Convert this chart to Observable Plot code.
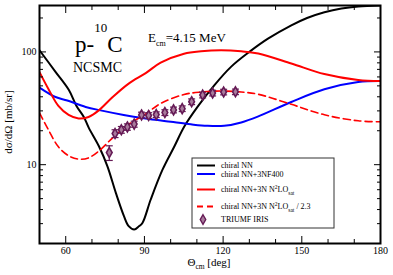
<!DOCTYPE html>
<html><head><meta charset="utf-8">
<script src="https://cdn.jsdelivr.net/npm/d3@7"></script>
<script src="https://cdn.jsdelivr.net/npm/@observablehq/plot@0.6"></script>
<style>html,body{margin:0;padding:0;background:#fff}svg{display:block}</style>
</head><body><div id="chart"></div>
<script>
// ---- data ----
const nnTheta = [50.0, 56.1, 61.2, 64.1, 66.9, 68.8, 72.7, 75.9, 79.1, 82.2, 84.0, 86.1, 87.9, 89.3, 92.4, 96.9, 101.4, 105.2, 110.3, 116.7, 123.0, 130.0, 137.1, 146.0, 152.0, 158.6, 165.1, 171.5, 180];
const nnValue = [103.5, 66.6, 45.9, 33.2, 26.5, 21.2, 14.5, 9.66, 5.63, 3.50, 2.85, 2.66, 2.84, 3.06, 4.91, 9.03, 14.5, 21.8, 32.7, 50.8, 73.7, 100, 131, 172, 200, 225, 243, 253, 258];

const nf400Theta = [50, 56.1, 60.6, 67.6, 73.3, 82.1, 89.8, 100.1, 107.7, 113.9, 120.4, 126.9, 133.2, 146.0, 158.6, 171.5, 180];
const nf400Value = [48.3, 39.8, 37.1, 32.5, 30.3, 27.6, 25.8, 24.0, 22.8, 22.1, 22.1, 23.7, 26.7, 36.0, 46.6, 54.0, 55.1];

const satTheta = [50, 53.4, 57.2, 61.1, 64.9, 68.7, 72.6, 77.9, 84.0, 90.5, 96.2, 105.1, 111.6, 119.2, 126.9, 133.4, 146.0, 158.6, 171.5, 180];
const satValue = [66.2, 46.9, 33.2, 27.6, 25.7, 26.5, 30.3, 39.8, 52.4, 64.9, 80.3, 96.4, 101.4, 103.5, 101.4, 96.8, 79.0, 63.6, 56.3, 55.1];
const satScaledValue = [28.8, 20.4, 14.4, 12.0, 11.2, 11.5, 13.2, 17.3, 22.8, 28.2, 34.9, 41.9, 44.1, 45.0, 44.1, 42.1, 34.3, 27.7, 24.5, 24.0];

const irisTheta = [76.6, 78.8, 81.2, 83.5, 86.1, 88.9, 91.6, 94.5, 97.8, 101.1, 104.4, 108.0, 112.2, 116.0, 120.2, 124.7];
const irisValue = [12.8, 18.9, 20.4, 21.6, 22.9, 27.6, 27.3, 27.8, 29.0, 30.6, 31.4, 36.2, 41.5, 43.2, 44.1, 44.3];
const irisError = [1.9, 1.5, 1.4, 1.4, 1.4, 1.6, 1.6, 1.6, 1.7, 1.8, 1.8, 2.1, 2.4, 2.5, 2.5, 2.5];

const xMajorTicks = [60, 90, 120, 150, 180];
const xMinorTicks = [70, 80, 100, 110, 130, 140, 160, 170];
const yMajorTicks = [10, 100];
const yMinorTicks = [2, 3, 4, 5, 6, 7, 8, 9, 20, 30, 40, 50, 60, 70, 80, 90, 200];

const legendLabels = ["chiral NN", "chiral NN+3NF400", "chiral NN+3N N²LOsat", "chiral NN+3N N²LOsat / 2.3", "TRIUMF IRIS"];

// ---- build tables ----
const toRows = (xs, ys) => xs.map((x, i) => ({x, y: ys[i]}));
const nn = toRows(nnTheta, nnValue);
const nf400 = toRows(nf400Theta, nf400Value);
const sat = toRows(satTheta, satValue);
const satScaled = toRows(satTheta, satScaledValue);
const iris = irisTheta.map((x, i) => ({x, y: irisValue[i], lo: irisValue[i] - irisError[i], hi: irisValue[i] + irisError[i]}));

const serif = "'Liberation Serif', 'DejaVu Serif', serif";
const purple = "#651a55";
const markFill = "#a87c9c";
const capSymbol = {draw(ctx) { ctx.moveTo(-3.5, 0); ctx.lineTo(3.5, 0); }};

const W = 393, H = 275;
const plot = Plot.plot({
  width: W, height: H,
  marginLeft: 39, marginRight: 13, marginTop: 5, marginBottom: 32,
  style: {fontFamily: serif, fontSize: "10px", color: "black", background: "white", overflow: "visible"},
  x: {type: "linear", domain: [50, 180]},
  y: {type: "log", domain: [2, 258]},
  marks: [
    Plot.line(nn, {x: "x", y: "y", stroke: "black", strokeWidth: 2, curve: "catmull-rom", clip: true}),
    Plot.line(nf400, {x: "x", y: "y", stroke: "#0000ff", strokeWidth: 2, curve: "catmull-rom", clip: true}),
    Plot.line(sat, {x: "x", y: "y", stroke: "#ff0000", strokeWidth: 2, curve: "catmull-rom", clip: true}),
    Plot.line(satScaled, {x: "x", y: "y", stroke: "#ff0000", strokeWidth: 1.6, strokeDasharray: "7,4", curve: "catmull-rom", clip: true}),
    Plot.ruleX(iris, {x: "x", y1: "lo", y2: "hi", stroke: purple, strokeWidth: 1.2}),
    Plot.dot(iris, {x: "x", y: "lo", symbol: capSymbol, stroke: purple, strokeWidth: 1.2, fill: "none"}),
    Plot.dot(iris, {x: "x", y: "hi", symbol: capSymbol, stroke: purple, strokeWidth: 1.2, fill: "none"}),
    Plot.dot(iris, {x: "x", y: "y", symbol: "diamond", r: 3.0, fill: markFill, stroke: purple, strokeWidth: 1.6}),
    // ticks (inward) on all four sides
    Plot.axisX(xMajorTicks, {anchor: "bottom", tickSize: -7, tickFormat: () => "", label: null}),
    Plot.axisX(xMinorTicks, {anchor: "bottom", tickSize: -4, tickFormat: () => "", label: null}),
    Plot.axisX(xMajorTicks, {anchor: "top", tickSize: -7, tickFormat: () => "", label: null}),
    Plot.axisX(xMinorTicks, {anchor: "top", tickSize: -4, tickFormat: () => "", label: null}),
    Plot.axisY(yMajorTicks, {anchor: "left", tickSize: -7, tickFormat: () => "", label: null}),
    Plot.axisY(yMinorTicks, {anchor: "left", tickSize: -4, tickFormat: () => "", label: null}),
    Plot.axisY(yMajorTicks, {anchor: "right", tickSize: -7, tickFormat: () => "", label: null}),
    Plot.axisY(yMinorTicks, {anchor: "right", tickSize: -4, tickFormat: () => "", label: null}),
    // tick labels
    Plot.text(xMajorTicks, {x: d => d, frameAnchor: "bottom", dy: 10, text: d => String(d), fontSize: 10, textAnchor: "middle"}),
    Plot.text(yMajorTicks, {y: d => d, frameAnchor: "left", dx: -3, text: d => String(d), fontSize: 10, textAnchor: "end"}),
    Plot.frame({stroke: "black", strokeWidth: 2})
  ]
});
document.getElementById("chart").appendChild(plot);

// ---- text annotations, axis titles and legend ----
const svg = d3.select(plot);
const g = svg.append("g").attr("font-family", serif).attr("fill", "black").attr("text-anchor", "start");

// axis titles
g.append("text").attr("transform", "translate(12,122) rotate(-90)").attr("text-anchor", "middle")
  .attr("font-size", 11).text("dσ/dΩ [mb/sr]");
const xl = g.append("text").attr("x", 209).attr("y", 266).attr("text-anchor", "middle").attr("font-size", 11);
xl.append("tspan").text("Θ");
xl.append("tspan").attr("font-size", 7.5).attr("dy", 3).text("cm");
xl.append("tspan").attr("dy", -3).text(" [deg]");

// p-10C
const t1 = g.append("text").attr("x", 75).attr("y", 52).attr("font-size", 23);
t1.append("tspan").text("p-");
t1.append("tspan").attr("font-size", 13).attr("dy", -20).text("10");
t1.append("tspan").attr("dy", 20).text("C");
g.append("text").attr("x", 73).attr("y", 72).attr("font-size", 14).text("NCSMC");
const t3 = g.append("text").attr("x", 148).attr("y", 42).attr("font-size", 13);
t3.append("tspan").text("E");
t3.append("tspan").attr("font-size", 8).attr("dy", 3.5).text("cm");
t3.append("tspan").attr("dy", -3.5).text("=4.15 MeV");

// legend
const L = svg.append("g").attr("font-family", serif).attr("font-size", 8).attr("text-anchor", "start").attr("fill", "black");
L.append("rect").attr("x", 192).attr("y", 158).attr("width", 142).attr("height", 70)
  .attr("fill", "white").attr("stroke", "#333").attr("stroke-width", 1);
const rows = [
  {y: 165.5, stroke: "black", dash: null},
  {y: 174, stroke: "#0000ff", dash: null},
  {y: 189.5, stroke: "#ff0000", dash: null},
  {y: 206.5, stroke: "#ff0000", dash: "6,4"},
  {y: 219.5, stroke: null, dash: null}
];
rows.forEach((r, i) => {
  if (r.stroke) {
    L.append("line").attr("x1", 197).attr("x2", 215).attr("y1", r.y).attr("y2", r.y)
      .attr("stroke", r.stroke).attr("stroke-width", 2).attr("stroke-dasharray", r.dash);
  } else {
    L.append("path").attr("transform", `translate(203,${r.y})`).attr("d", d3.symbol(d3.symbolDiamond, 26)())
      .attr("fill", markFill).attr("stroke", purple).attr("stroke-width", 1.4);
  }
  const txt = L.append("text").attr("x", 221).attr("y", r.y).attr("dy", "0.35em");
  const label = legendLabels[i];
  if (label.includes("N²LOsat")) {
    const [pre, post] = label.split("N²LOsat");
    txt.append("tspan").text(pre + "N");
    txt.append("tspan").attr("font-size", 5.5).attr("dy", -3.5).text("2");
    txt.append("tspan").attr("dy", 3.5).text("LO");
    txt.append("tspan").attr("font-size", 5.5).attr("dy", 2.5).text("sat");
    if (post) txt.append("tspan").attr("dy", -2.5).text(post);
  } else {
    txt.text(label);
  }
});
</script>
</body></html>
